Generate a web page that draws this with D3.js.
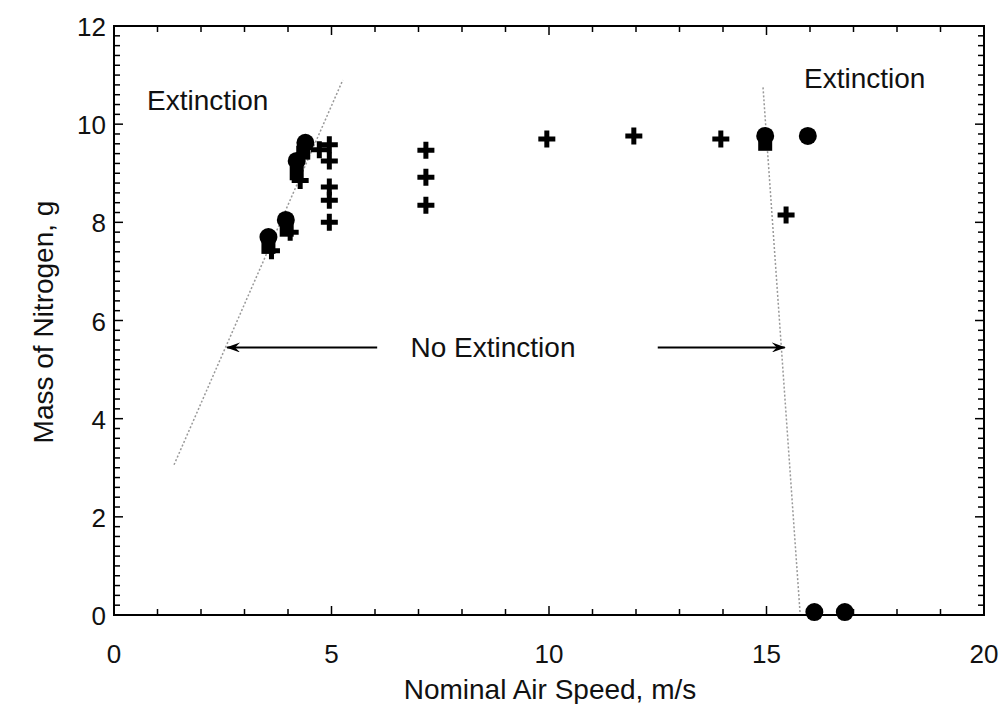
<!DOCTYPE html>
<html><head><meta charset="utf-8">
<script src="https://cdn.jsdelivr.net/npm/d3@7/dist/d3.min.js"></script>
<style>body{margin:0;background:#fff;} text{font-family:"Liberation Sans",Arial,sans-serif;fill:#111;}</style>
</head><body><svg id="c" width="1006" height="704"></svg>
<script>
// Data (x: nominal air speed m/s, y: mass of nitrogen g)
const circlePts = [[3.55,7.7],[3.95,8.05],[4.2,9.25],[4.4,9.62],[14.97,9.76],[15.95,9.76],[16.1,0.06],[16.8,0.06]];
const squarePts = [[3.55,7.5],[3.97,7.85],[4.2,9.0],[4.35,9.42],[14.97,9.6]];
const plusPts = [[3.62,7.42],[4.05,7.8],[4.28,8.85],[4.72,9.48],[4.95,9.58],[4.95,9.25],[4.95,8.72],[4.95,8.45],[4.95,8.0],
  [7.17,9.47],[7.17,8.92],[7.17,8.35],[9.95,9.7],[11.95,9.76],[13.95,9.7],[15.45,8.15]];
const leftBoundary = [[1.38,3.06],[5.26,10.9]];
const rightBoundary = [[14.92,10.75],[15.77,0.06]];
const arrowLeft = [[6.05,5.45],[2.6,5.45]];
const arrowRight = [[12.5,5.45],[15.42,5.45]];
const xTicks = [0,5,10,15,20];
const yTicks = [0,2,4,6,8,10,12];

const svg = d3.select("#c");
const L=114,R=984,T=26,B=615;
const x = d3.scaleLinear().domain([0,20]).range([L,R]);
const y = d3.scaleLinear().domain([0,12]).range([B,T]);

// frame
svg.append("rect").attr("x",L).attr("y",T).attr("width",R-L).attr("height",B-T)
  .attr("fill","none").attr("stroke","#000").attr("stroke-width",2);

// ticks (inward, all four sides)
const g = svg.append("g").attr("stroke","#000").attr("stroke-width",1.5);
d3.range(0,21,1).forEach(v=>{
  const len = v%5===0?9:6;
  g.append("line").attr("x1",x(v)).attr("x2",x(v)).attr("y1",B).attr("y2",B-len);
  g.append("line").attr("x1",x(v)).attr("x2",x(v)).attr("y1",T).attr("y2",T+len);
});
d3.range(0,61,1).forEach(i=>{
  const v=i*0.2; const len = i%10===0?9:6;
  g.append("line").attr("y1",y(v)).attr("y2",y(v)).attr("x1",L).attr("x2",L+len);
  g.append("line").attr("y1",y(v)).attr("y2",y(v)).attr("x1",R).attr("x2",R-len);
});

// tick labels
svg.selectAll(".xt").data(xTicks).enter().append("text")
  .attr("x",d=>x(d)).attr("y",B+48).attr("text-anchor","middle").attr("font-size",26).text(d=>d);
svg.selectAll(".yt").data(yTicks).enter().append("text")
  .attr("x",L-8).attr("y",d=>y(d)+10).attr("text-anchor","end").attr("font-size",26).text(d=>d);

// axis titles
svg.append("text").attr("x",550).attr("y",699).attr("text-anchor","middle").attr("font-size",28).text("Nominal Air Speed, m/s");
svg.append("text").attr("transform",`translate(53,${322}) rotate(-90)`).attr("text-anchor","middle").attr("font-size",28).text("Mass of Nitrogen, g");

// boundary lines
const line = d3.line().x(d=>x(d[0])).y(d=>y(d[1]));
[leftBoundary,rightBoundary].forEach(b=>{
  svg.append("path").attr("d",line(b)).attr("fill","none").attr("stroke","#999")
    .attr("stroke-width",1.5).attr("stroke-dasharray","2,2");
});

// arrows
svg.append("defs").append("marker").attr("id","ah").attr("viewBox","0 0 14 10").attr("refX",13).attr("refY",5)
  .attr("markerWidth",14).attr("markerHeight",10).attr("markerUnits","userSpaceOnUse").attr("orient","auto")
  .append("path").attr("d","M0,0 L14,5 L0,10 L5,5 Z").attr("fill","#000");
[arrowLeft,arrowRight].forEach(a=>{
  svg.append("path").attr("d",line(a)).attr("stroke","#000").attr("stroke-width",2).attr("fill","none")
    .attr("marker-end","url(#ah)");
});

// annotations
svg.append("text").attr("x",493).attr("y",y(5.45)+10).attr("text-anchor","middle").attr("font-size",28).text("No Extinction");
svg.append("text").attr("x",147).attr("y",110).attr("font-size",28).text("Extinction");
svg.append("text").attr("x",804).attr("y",88).attr("font-size",28).text("Extinction");

// markers
svg.selectAll(".sq").data(squarePts).enter().append("rect")
  .attr("x",d=>x(d[0])-7).attr("y",d=>y(d[1])-7).attr("width",14).attr("height",14).attr("fill","#000");
svg.selectAll(".ci").data(circlePts).enter().append("circle")
  .attr("cx",d=>x(d[0])).attr("cy",d=>y(d[1])).attr("r",9).attr("fill","#000");
svg.selectAll(".pl").data(plusPts).enter().append("path")
  .attr("d",d=>{const cx=x(d[0]),cy=y(d[1]),h=8.5;return `M${cx-h},${cy}H${cx+h}M${cx},${cy-h}V${cy+h}`;})
  .attr("stroke","#000").attr("stroke-width",5).attr("fill","none");
</script></body></html>
